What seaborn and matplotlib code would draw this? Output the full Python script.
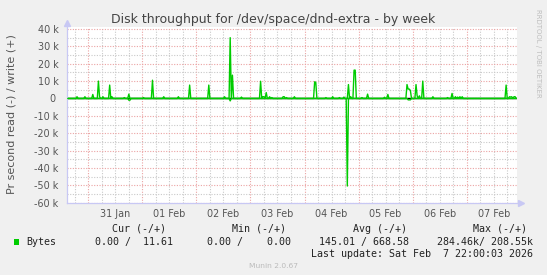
import matplotlib
matplotlib.use("Agg")
import matplotlib.pyplot as plt
import matplotlib.dates as mdates
from matplotlib.ticker import MultipleLocator, FixedLocator, FuncFormatter
from matplotlib.patches import Rectangle
import seaborn as sns
import pandas as pd

sns.set_theme(style="white")
plt.rcParams["font.family"] = ["DejaVu Sans"]

# ---------------- data ----------------
title = "Disk throughput for /dev/space/dnd-extra - by week"
y_label = "Pr second read (-) / write (+)"
series_name = "Bytes"
range_start = "2026-01-30 15:00"
range_end = "2026-02-07 22:00"

write_times = [
    "2026-01-30 19:00", "2026-01-30 22:30", "2026-01-31 02:00", "2026-01-31 04:30",
    "2026-01-31 05:00", "2026-01-31 06:30", "2026-01-31 09:30", "2026-01-31 10:30",
    "2026-01-31 16:00", "2026-01-31 18:00", "2026-02-01 00:30", "2026-02-01 04:30",
    "2026-02-01 09:30", "2026-02-01 16:00", "2026-02-01 21:00", "2026-02-02 05:30",
    "2026-02-02 12:30", "2026-02-02 15:00", "2026-02-02 16:00", "2026-02-02 20:00",
    "2026-02-03 04:30", "2026-02-03 05:30", "2026-02-03 06:00", "2026-02-03 07:00",
    "2026-02-03 08:30", "2026-02-03 09:30", "2026-02-03 14:30", "2026-02-03 15:00",
    "2026-02-03 16:00", "2026-02-03 19:30", "2026-02-04 04:30", "2026-02-04 05:00",
    "2026-02-04 09:30", "2026-02-04 12:30", "2026-02-04 15:30", "2026-02-04 17:30",
    "2026-02-04 19:30", "2026-02-04 20:30", "2026-02-04 22:00", "2026-02-04 22:30",
    "2026-02-05 01:30", "2026-02-05 04:00", "2026-02-05 11:30", "2026-02-05 13:00",
    "2026-02-05 21:30", "2026-02-05 22:00", "2026-02-05 22:30", "2026-02-05 23:00",
    "2026-02-06 01:30", "2026-02-06 02:00", "2026-02-06 03:00", "2026-02-06 04:30",
    "2026-02-06 09:00", "2026-02-06 15:30", "2026-02-06 17:30", "2026-02-06 19:00",
    "2026-02-06 20:00", "2026-02-06 21:00", "2026-02-06 22:00", "2026-02-07 17:30",
    "2026-02-07 19:00", "2026-02-07 19:30", "2026-02-07 20:00", "2026-02-07 21:00",
    "2026-02-07 21:30",
]
write_kbytes = [
    1.0, 1.0, 2.3, 10.0,
    1.0, 1.0, 7.7, 1.0,
    0.5, 2.5, 0.5, 10.5,
    1.0, 1.0, 7.7, 7.7,
    1.0, 35.0, 13.4, 0.8,
    9.9, 1.0, 1.0, 3.4,
    1.0, 0.5, 1.0, 1.0,
    0.5, 1.0, 9.6, 9.2,
    0.5, 1.0, 0.5, 0.8,
    8.0, 1.0, 16.3, 16.3,
    0.5, 2.5, 0.7, 2.3,
    8.0, 5.4, 5.4, 4.6,
    8.0, 1.5, 1.5, 10.0,
    1.0, 0.5, 2.9, 1.0,
    0.8, 1.0, 1.0, 7.7,
    1.0, 0.8, 1.0, 1.0,
    1.0,
]

read_times = [
    "2026-01-31 18:00", "2026-01-31 18:30", "2026-02-02 15:00", "2026-02-04 19:00",
    "2026-02-05 22:00", "2026-02-05 22:30", "2026-02-05 23:00",
]
read_kbytes = [1.0, 1.0, 1.4, 50.4, 0.8, 0.8, 0.8]

y_ticks = [40000, 30000, 20000, 10000, 0, -10000, -20000, -30000, -40000, -50000, -60000]
y_tick_labels = ["40 k", "30 k", "20 k", "10 k", "0 ", "-10 k", "-20 k", "-30 k",
                 "-40 k", "-50 k", "-60 k"]

legend_headers = ["Cur (-/+)", "Min (-/+)", "Avg (-/+)", "Max (-/+)"]
legend_values = ["0.00 /  11.61", "0.00 /    0.00", "145.01 / 668.58", "284.46k/ 208.55k"]
last_update = "Last update: Sat Feb  7 22:00:03 2026"
version = "Munin 2.0.67"
watermark = "RRDTOOL / TOBI OETIKER"

# ---------------- build series ----------------
grid = pd.date_range(range_start, range_end, freq="30min")
write_s = pd.Series(0.0, index=grid)
write_s.loc[pd.to_datetime(write_times)] = [v * 1000 for v in write_kbytes]
read_s = pd.Series(0.0, index=grid)
read_s.loc[pd.to_datetime(read_times)] = [v * 1000 for v in read_kbytes]
df = pd.DataFrame({"time": grid, "write": write_s.values, "read": -read_s.values})

# ---------------- figure ----------------
W, H = 547, 275
fig = plt.figure(figsize=(W / 100, H / 100), dpi=100)
fig.patch.set_facecolor("#F0F0F0")

def fx(x):
    return x / W

def fy(y):
    return 1 - y / H

ax_l, ax_r, ax_t, ax_b = 66.7, 517.3, 26.7, 202.7
ax = fig.add_axes([fx(ax_l), fy(ax_b), fx(ax_r - ax_l), (ax_b - ax_t) / H])
ax.set_facecolor("white")

GREEN = "#00CC00"
ax.axhline(0, color="black", lw=1.0, zorder=2)
sns.lineplot(data=df, x="time", y="write", ax=ax, color=GREEN, lw=1.0, zorder=3)
sns.lineplot(data=df, x="time", y="read", ax=ax, color=GREEN, lw=1.0, zorder=3)

x0 = pd.Timestamp("2026-01-30 14:25")
x1 = pd.Timestamp("2026-02-07 22:28")
ax.set_xlim(x0, x1)
ax.set_ylim(-60000, 41300)

ax.xaxis.set_major_locator(mdates.DayLocator())
ax.xaxis.set_minor_locator(mdates.HourLocator(byhour=[6, 12, 18]))
ax.xaxis.set_major_formatter(FuncFormatter(lambda v, p: ""))

def minor_fmt(v, p):
    d = mdates.num2date(v)
    return d.strftime("%d %b") if d.hour == 12 else ""

ax.xaxis.set_minor_formatter(FuncFormatter(minor_fmt))

ax.yaxis.set_major_locator(FixedLocator(y_ticks))
ax.set_yticklabels(y_tick_labels)
ax.yaxis.set_minor_locator(MultipleLocator(5000))

MAJ = "#EBA3A3"
MIN = "#C9C9C9"
ax.grid(which="major", color=MAJ, linestyle=(0, (1, 1.4)), linewidth=0.8, zorder=0)
ax.grid(which="minor", color=MIN, linestyle=(0, (1, 1.4)), linewidth=0.8, zorder=0)
ax.set_axisbelow(True)

ax.tick_params(axis="both", which="both", direction="out", labelsize=6.9,
               labelcolor="#555555")
ax.tick_params(axis="y", which="major", length=2, color=MAJ, pad=3.8)
ax.tick_params(axis="y", which="minor", length=0)
ax.tick_params(axis="x", which="major", length=2, color=MAJ)
ax.tick_params(axis="x", which="minor", length=2, color=MIN, pad=2.8)

for s in ["top", "right"]:
    ax.spines[s].set_visible(False)
AXC = "#C8C8F4"
ax.spines["left"].set_color(AXC)
ax.spines["bottom"].set_color(AXC)
ax.spines["left"].set_linewidth(0.9)
ax.spines["bottom"].set_linewidth(0.9)
ax.plot([0], [1.02], marker="^", color=AXC, markersize=4.5, transform=ax.transAxes,
        clip_on=False)
ax.plot([1.008], [0], marker=">", color=AXC, markersize=4.5, transform=ax.transAxes,
        clip_on=False)

ax.set_xlabel("")
ax.set_ylabel("")

# titles
fig.text(fx(273.2), fy(19.3), title, ha="center", va="center", fontsize=9.0,
         color="#444444")
fig.text(fx(11.7), fy(114), y_label, ha="center", va="center", rotation=90,
         fontsize=8.0, color="#555555")
fig.text(fx(537.7), fy(53), watermark, ha="center", va="center", rotation=270,
         fontsize=5.0, color="#BEBEBE")

# legend block
MONO = ["DejaVu Sans Mono"]
LC = "#222222"
fs = 7.2
header_x = [111.7, 232.0, 353.1, 472.8]
for hx, txt in zip(header_x, legend_headers):
    fig.text(fx(hx), fy(228.6), txt, ha="left", va="center", fontsize=fs,
             family=MONO, color=LC)
fig.patches.append(Rectangle((fx(14.0), fy(244.5)), fx(5.2), 5.2 / H,
                             transform=fig.transFigure, facecolor=GREEN,
                             edgecolor="none"))
fig.text(fx(26.2), fy(241.9), series_name, ha="left", va="center", fontsize=fs,
         family=MONO, color=LC)
value_right = [173.4, 291.3, 408.9, 533.1]
for vx, txt in zip(value_right, legend_values):
    fig.text(fx(vx), fy(241.9), txt, ha="right", va="center", fontsize=fs,
             family=MONO, color=LC)
fig.text(fx(533.1), fy(254.1), last_update, ha="right", va="center", fontsize=fs,
         family=MONO, color=LC)
fig.text(fx(273.2), fy(266.3), version, ha="center", va="center", fontsize=5.4,
         color="#BBBBBB")

fig.savefig("out.png", dpi=100, facecolor=fig.get_facecolor())
